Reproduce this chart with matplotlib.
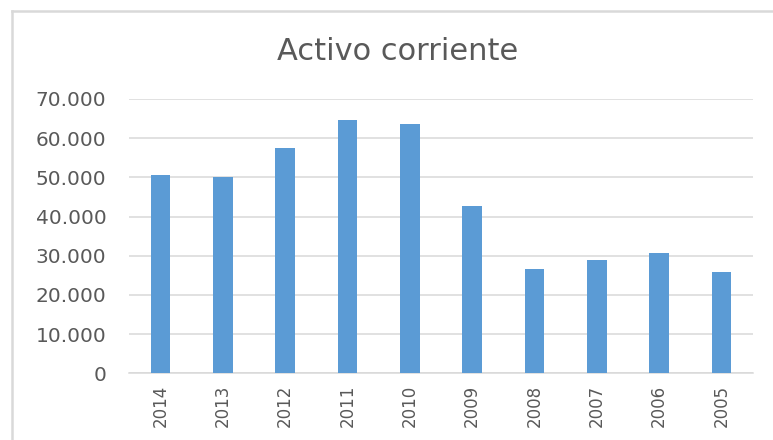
import matplotlib
matplotlib.use("Agg")
import matplotlib.pyplot as plt
from matplotlib.lines import Line2D
from matplotlib.ticker import FuncFormatter

# Data (values in units, Spanish thousands separator)
YEARS = ["2014", "2013", "2012", "2011", "2010", "2009", "2008", "2007", "2006", "2005"]
ACTIVO = [50700, 50100, 57600, 64600, 63500, 42600, 26700, 29000, 30700, 25800]
Y_TICKS = [0, 10000, 20000, 30000, 40000, 50000, 60000, 70000]

BAR_COLOR = "#5B9BD5"
GRID_COLOR = "#D9D9D9"
TEXT_COLOR = "#595959"

W, H = 773, 440


def es_thousands(v, _pos=None):
    return f"{int(v):,}".replace(",", ".")


fig = plt.figure(figsize=(W / 100, H / 100), dpi=100)
ax = fig.add_axes([129.3 / W, 1 - 373.3 / H, 623.4 / W, 274.3 / H])

x = range(len(YEARS))
ax.bar(x, ACTIVO, width=0.315, color=BAR_COLOR, zorder=3)

ax.set_xlim(-0.5, len(YEARS) - 0.5)
ax.set_ylim(0, 70000)
ax.set_yticks(Y_TICKS)
ax.yaxis.set_major_formatter(FuncFormatter(es_thousands))
ax.set_xticks(list(x))
ax.set_xticklabels(YEARS, rotation=90)

ax.grid(axis="y", color=GRID_COLOR, linewidth=1.1, zorder=0)
ax.tick_params(axis="both", length=0, colors=TEXT_COLOR)
ax.tick_params(axis="y", labelsize=14.5, pad=16.5)
ax.tick_params(axis="x", labelsize=12, pad=8)
for side in ("top", "right", "left"):
    ax.spines[side].set_visible(False)
ax.spines["bottom"].set_color(GRID_COLOR)
ax.spines["bottom"].set_linewidth(1.1)

fig.text(398 / W, 1 - 60 / H, "Activo corriente", ha="center", va="baseline",
         fontsize=22, color=TEXT_COLOR)

# chart-area border (cropped on the right and bottom)
fig.add_artist(Line2D([12 / W, 12 / W], [0, 1 - 11 / H], transform=fig.transFigure,
                      color=GRID_COLOR, linewidth=1.8))
fig.add_artist(Line2D([12 / W, 1], [1 - 11 / H, 1 - 11 / H], transform=fig.transFigure,
                      color=GRID_COLOR, linewidth=1.8))

fig.savefig("out.png", dpi=100)
